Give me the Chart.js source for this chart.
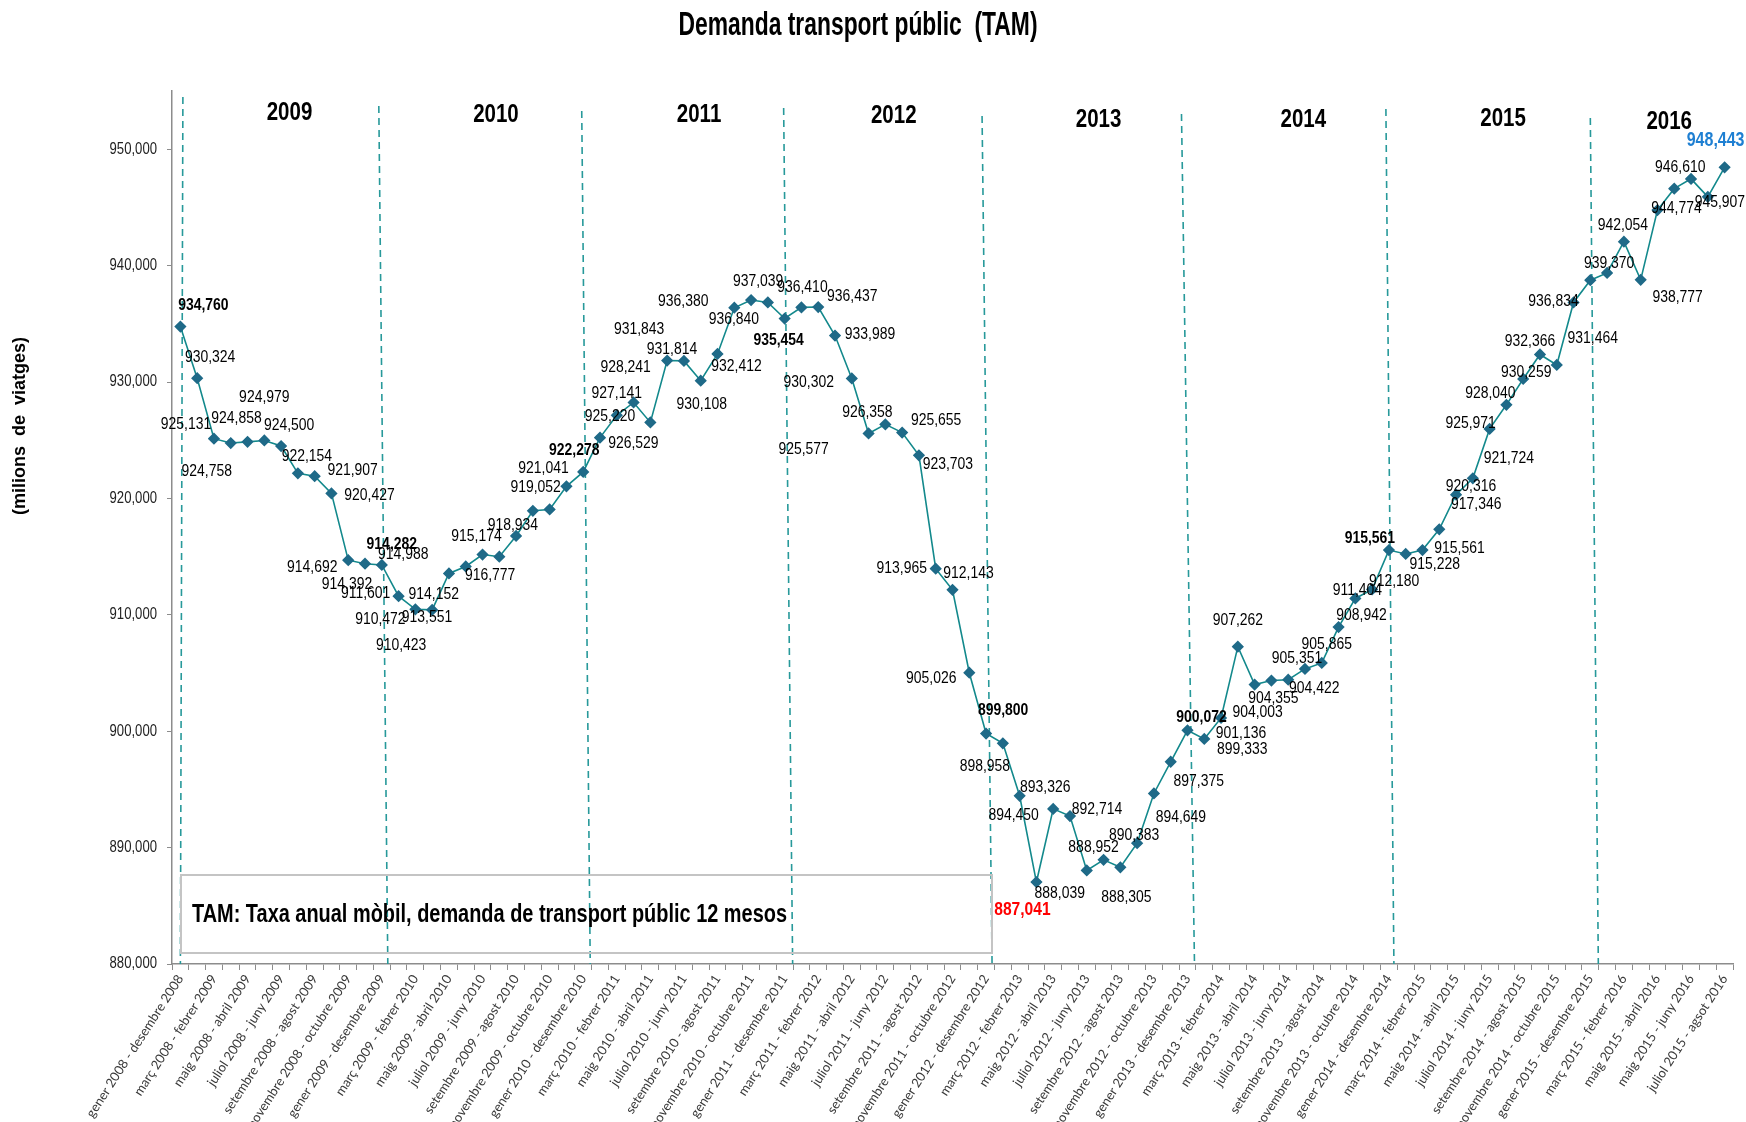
<!DOCTYPE html>
<html>
<head>
<meta charset="utf-8">
<script src="https://cdn.jsdelivr.net/npm/chart.js@4.4.1/dist/chart.umd.min.js"></script>
<style>
  html, body { margin: 0; padding: 0; background: #fff; }
  #wrap { width: 1746px; height: 1122px; }
</style>
</head>
<body>
<div id="wrap"><canvas id="tam"></canvas></div>
<script>
// TAM values (thousands of trips), one array per year, Dec 2008 .. Aug 2016
var tam2008 = [934760];
var tam2009 = [930324, 925131, 924758, 924858, 924979, 924500, 922154, 921907, 920427, 914692, 914392, 914282];
var tam2010 = [911601, 910472, 910423, 913551, 914152, 915174, 914988, 916777, 918934, 919052, 921041, 922278];
var tam2011 = [925220, 927141, 928241, 926529, 931843, 931814, 930108, 932412, 936380, 937039, 936840, 935454];
var tam2012 = [936410, 936437, 933989, 930302, 925577, 926358, 925655, 923703, 913965, 912143, 905026, 899800];
var tam2013 = [898958, 894450, 887041, 893326, 892714, 888039, 888952, 888305, 890383, 894649, 897375, 900072];
var tam2014 = [899333, 901136, 907262, 904003, 904355, 904422, 905351, 905865, 908942, 911404, 912180, 915561];
var tam2015 = [915228, 915561, 917346, 920316, 921724, 925971, 928040, 930259, 932366, 931464, 936834, 938750];
var tam2016 = [939370, 942054, 938777, 944774, 946610, 947450, 945907, 948443];

// axis labels, shown on every second month
var tickLabels = [
  "gener 2008 - desembre 2008", "març 2008 - febrer 2009", "maig 2008 - abril 2009", "juliol 2008 - juny 2009",
  "setembre 2008 - agost 2009", "novembre 2008 - octubre 2009", "gener 2009 - desembre 2009", "març 2009 - febrer 2010",
  "maig 2009 - abril 2010", "juliol 2009 - juny 2010", "setembre 2009 - agost 2010", "novembre 2009 - octubre 2010",
  "gener 2010 - desembre 2010", "març 2010 - febrer 2011", "maig 2010 - abril 2011", "juliol 2010 - juny 2011",
  "setembre 2010 - agost 2011", "novembre 2010 - octubre 2011", "gener 2011 - desembre 2011", "març 2011 - febrer 2012",
  "maig 2011 - abril 2012", "juliol 2011 - juny 2012", "setembre 2011 - agost 2012", "novembre 2011 - octubre 2012",
  "gener 2012 - desembre 2012", "març 2012 - febrer 2013", "maig 2012 - abril 2013", "juliol 2012 - juny 2013",
  "setembre 2012 - agost 2013", "novembre 2012 - octubre 2013", "gener 2013 - desembre 2013", "març 2013 - febrer 2014",
  "maig 2013 - abril 2014", "juliol 2013 - juny 2014", "setembre 2013 - agost 2014", "novembre 2013 - octubre 2014",
  "gener 2014 - desembre 2014", "març 2014 - febrer 2015", "maig 2014 - abril 2015", "juliol 2014 - juny 2015",
  "setembre 2014 - agost 2015", "novembre 2014 - octubre 2015", "gener 2015 - desembre 2015", "març 2015 - febrer 2016",
  "maig 2015 - abril 2016", "maig 2015 - juny 2016", "juliol 2015 - agsot 2016"
];

var yTicks = [880000, 890000, 900000, 910000, 920000, 930000, 940000, 950000];
var yearNames = ["2009", "2010", "2011", "2012", "2013", "2014", "2015", "2016"];

var values = [].concat(tam2008, tam2009, tam2010, tam2011, tam2012, tam2013, tam2014, tam2015, tam2016);
var categories = [];
for (var i = 0; i < values.length; i++) {
  categories.push(i % 2 === 0 ? tickLabels[i / 2] : "");
}

// where each value label sits relative to its point (px), null = no label
var labelOff = [
  [23,-21],
  [13,-21],[-28,-14],[-24,28],[-11,-24],[0,-43],[8,-21],[9,-17],[38,-6],[38,2],[-36,7],[-18,21],[10,-21],
  [-33,-3],[-35,10],[-31,35],[-22,44],[-32,28],[-6,-18],[-96,-2],[-26,39],[-20,15],[-14,-22],[-23,-18],[-9,-22],
  [10,-21],[0,-22],[-8,-35],[-17,21],[-28,-31],[-12,-12],[1,24],[19,12],[-51,-6],[7,-19],[-34,17],[-6,22],
  [1,-20],[34,-11],[35,-1],[-43,4],[-65,16],[-18,-12],[34,-12],[29,9],[-34,0],[16,-17],[-38,6],[17,-23],
  [-18,23],[-6,20],[-14,28],[-8,-22],[27,-7],[-27,23],[-10,-12],[6,30],[-3,-8],[27,24],[28,20],[14,-13],
  [38,10],[20,15],[0,-26],[3,28],[2,18],[26,9],[-8,-11],[5,-19],[23,-12],[2,-8],[22,-8],[-19,-12],
  [29,10],[37,-2],[37,-25],[15,-8],[36,-20],[-19,-6],[-16,-12],[3,-7],[-10,-13],[36,-27],[-20,-1],null,
  [2,-10],[-1,-16],[37,17],[19,-2],[6,-21],null,[12,5],[-9,-27]
];

var SANS = '"Liberation Sans", Arial, sans-serif';

function fmt(v) { return v.toLocaleString("en-US"); }

// Arial Narrow look: Liberation Sans squeezed horizontally
function narrowText(ctx, text, x, y, font, sx, align) {
  ctx.save();
  ctx.font = font;
  ctx.textAlign = align || "center";
  ctx.textBaseline = "middle";
  ctx.translate(x, y);
  ctx.scale(sx, 1);
  ctx.fillText(text, 0, 0);
  ctx.restore();
}
function fitText(ctx, text, x, y, font, width, align) {
  ctx.save();
  ctx.font = font;
  var sx = width / ctx.measureText(text).width;
  ctx.restore();
  narrowText(ctx, text, x, y, font, sx, align);
}

var extras = {
  id: "extras",
  beforeDatasetsDraw: function(chart) {
    var ctx = chart.ctx, xs = chart.scales.x, ys = chart.scales.y, area = chart.chartArea;
    // dashed year separators (slightly slanted as in the original)
    var tops = [97, 106, 111, 108, 116, 114, 109, 118];
    var slant = [[2.5, 0], [-3, 6], [-1.5, 7], [-1, 8], [-4, 6], [-6, 7], [-3, 5], [0, 8]];
    ctx.save();
    ctx.strokeStyle = "#27999a";
    ctx.lineWidth = 1.6;
    ctx.setLineDash([7, 5]);
    for (var k = 0; k < 8; k++) {
      var px = xs.getPixelForValue(k * 12);
      ctx.beginPath();
      ctx.moveTo(px + slant[k][0], tops[k]);
      ctx.lineTo(px + slant[k][1], area.bottom);
      ctx.stroke();
    }
    ctx.restore();

    // note box
    ctx.save();
    ctx.strokeStyle = "#c4c4c4";
    ctx.lineWidth = 2;
    ctx.strokeRect(area.left + 9, area.bottom - 89, 811, 78);
    ctx.restore();
    ctx.fillStyle = "#000";
    fitText(ctx, "TAM: Taxa anual mòbil, demanda de transport públic 12 mesos", area.left + 20, area.bottom - 49,
      "bold 25px " + SANS, 595, "left");

    // y tick labels
    ctx.fillStyle = "#222";
    yTicks.forEach(function(v) {
      narrowText(ctx, fmt(v), area.left - 15, ys.getPixelForValue(v), "16px " + SANS, 0.82, "right");
    });
  },
  afterDatasetsDraw: function(chart) {
    var ctx = chart.ctx, meta = chart.getDatasetMeta(0), xs = chart.scales.x;
    for (var i = 0; i < values.length; i++) {
      if (!labelOff[i]) continue;
      var p = meta.data[i];
      var color = "#000", font = "17px " + SANS;
      if (i % 12 === 0) font = "bold 17px " + SANS;
      if (i === 51) { color = "#ff0000"; font = "bold 19px " + SANS; }
      if (i === values.length - 1) { color = "#1e7fd2"; font = "bold 19.5px " + SANS; }
      ctx.fillStyle = color;
      narrowText(ctx, fmt(values[i]), p.x + labelOff[i][0], p.y + labelOff[i][1], font, 0.82);
    }
    // year headings
    var yearAt = [6.5, 18.8, 30.9, 42.5, 54.7, 66.9, 78.8, 88.7];
    var yearY = [113, 115, 115, 116, 120, 120, 119, 122];
    ctx.fillStyle = "#000";
    for (var k = 0; k < yearNames.length; k++) {
      narrowText(ctx, yearNames[k], xs.getPixelForValue(yearAt[k]), yearY[k], "bold 25px " + SANS, 0.82);
    }
    // title
    fitText(ctx, "Demanda transport públic  (TAM)", 858, 26, "bold 33px " + SANS, 359);
    // y axis title
    ctx.save();
    ctx.translate(20, 426);
    ctx.rotate(-Math.PI / 2);
    ctx.textAlign = "center";
    ctx.textBaseline = "middle";
    ctx.font = "bold 18px " + SANS;
    ctx.fillText("(milions  de  viatges)", 0, 0);
    ctx.restore();
  }
};

new Chart(document.getElementById("tam"), {
  type: "line",
  data: {
    labels: categories,
    datasets: [{
      label: "TAM",
      data: values,
      borderColor: "#13898c",
      borderWidth: 1.6,
      backgroundColor: "#1f6a88",
      pointStyle: "rectRot",
      pointRadius: 5,
      pointBorderColor: "#1f6a88",
      pointBackgroundColor: "#1f6a88",
      fill: false,
      tension: 0
    }]
  },
  options: {
    responsive: true,
    maintainAspectRatio: false,
    animation: false,
    layout: { autoPadding: false, padding: { left: 0, right: 13, top: 91, bottom: 0 } },
    plugins: { legend: { display: false }, tooltip: { enabled: false } },
    scales: {
      x: {
        offset: true,
        grid: { offset: true, drawOnChartArea: false, drawTicks: true, tickLength: 6, color: "#8c8c8c" },
        border: { color: "#8c8c8c", width: 1.5 },
        ticks: {
          autoSkip: false,
          minRotation: 57,
          maxRotation: 57,
          padding: 2,
          color: "#3a3a3a",
          font: { family: "Lato", size: 13 }
        },
        afterFit: function(s) { s.height = 158; }
      },
      y: {
        min: 880000,
        max: 955000,
        grid: { drawOnChartArea: false, drawTicks: true, tickLength: 5, color: "#8c8c8c" },
        border: { color: "#8c8c8c", width: 1.5 },
        afterBuildTicks: function(axis) {
          axis.ticks = yTicks.map(function(v) { return { value: v }; });
        },
        ticks: { display: false },
        afterFit: function(s) { s.width = 172; }
      }
    }
  },
  plugins: [extras]
});
</script>
</body>
</html>
